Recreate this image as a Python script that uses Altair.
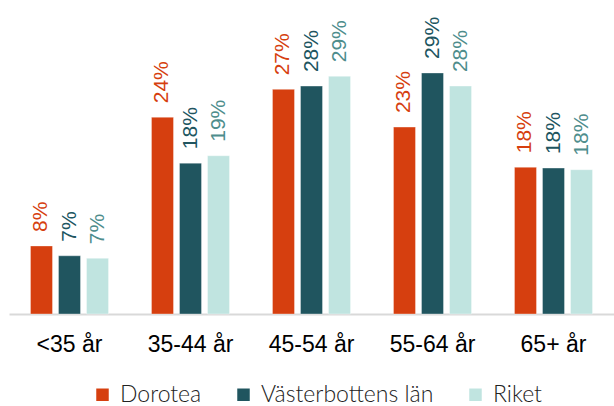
import altair as alt
import pandas as pd

categories = ["<35 år", "35-44 år", "45-54 år", "55-64 år", "65+ år"]
series = ["Dorotea", "Västerbottens län", "Riket"]
dorotea = [0.083, 0.240, 0.274, 0.228, 0.179]
vasterbotten = [0.071, 0.184, 0.278, 0.294, 0.178]
riket = [0.068, 0.193, 0.290, 0.278, 0.176]

bar_colors = ["#D63F0F", "#20555F", "#C0E4E0"]
label_colors = ["#D63F0F", "#20555F", "#4E8D8C"]

rows = []
for i, c in enumerate(categories):
    for s, vals in zip(series, [dorotea, vasterbotten, riket]):
        rows.append({"kat": c, "serie": s, "v": vals[i]})
df = pd.DataFrame(rows)

x = alt.X("kat:N", sort=categories, title=None,
          scale=alt.Scale(paddingInner=0.355, paddingOuter=0.1775),
          axis=alt.Axis(labelAngle=0, labelFontSize=23, labelColor="#000000",
                        labelFont="Liberation Sans", labelFontWeight="normal",
                        labelPadding=19,
                        ticks=False, domainColor="#d9d9d9", domainWidth=2))
xo = alt.XOffset("serie:N", sort=series,
                 scale=alt.Scale(paddingInner=0.214, paddingOuter=0))
y = alt.Y("v:Q", scale=alt.Scale(domain=[0, 0.383], nice=False, zero=True), axis=None)

bars = alt.Chart(df).mark_bar(stroke="white", strokeWidth=1, strokeOpacity=0.35).encode(
    x=x, xOffset=xo, y=y,
    color=alt.Color("serie:N", sort=series,
                    scale=alt.Scale(domain=series, range=bar_colors),
                    legend=alt.Legend(title=None, orient="none", direction="horizontal",
                                      legendX=82, legendY=383,
                                      symbolType="square", symbolSize=156,
                                      symbolStrokeWidth=0, symbolOpacity=1,
                                      labelFont="Lato", labelFontWeight=300,
                                      labelFontSize=23, labelColor="#222222",
                                      labelLimit=400,
                                      columnPadding=30, labelOffset=6)),
)

labels = alt.Chart(df).mark_text(angle=270, align="left", baseline="middle", dx=14,
                                 fontSize=21, font="Liberation Sans").encode(
    x=x, xOffset=xo, y=y,
    text=alt.Text("v:Q", format=".0%"),
    color=alt.Color("serie:N", sort=series,
                    scale=alt.Scale(domain=series, range=label_colors), legend=None),
)

chart = alt.layer(bars, labels).resolve_scale(color="independent").properties(
    width=605, height=314,
    autosize=alt.AutoSizeParams(type="none"),
    padding={"left": 9, "top": 0, "right": 0, "bottom": 92},
).configure_view(stroke=None)

chart.save("out.html", embed_options={"renderer": "svg", "actions": False})
